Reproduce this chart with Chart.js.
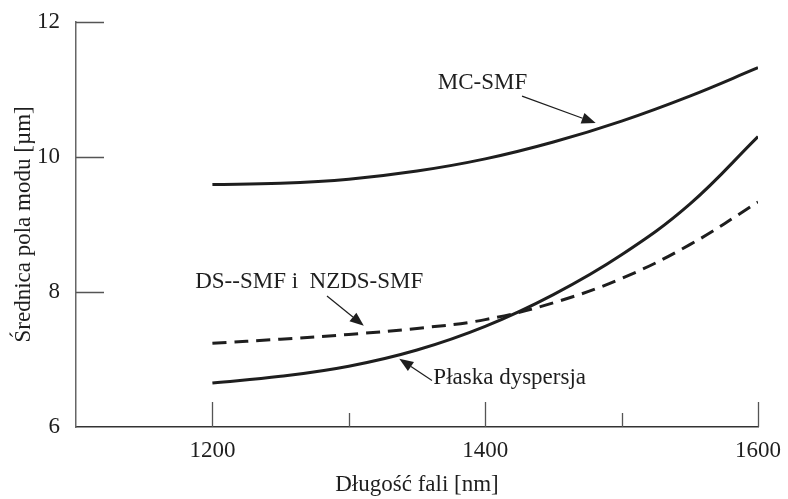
<!DOCTYPE html>
<html>
<head>
<meta charset="utf-8">
<script src="https://cdn.jsdelivr.net/npm/chart.js@4.4.1/dist/chart.umd.min.js"></script>
<style>
  html, body { margin: 0; padding: 0; background: #fff; }
</style>
</head>
<body>
<canvas id="plotCanvas" width="788" height="499"></canvas>
<script>
// Długość fali [nm]
let wavelengths = [1200, 1250, 1300, 1350, 1400, 1450, 1500, 1550, 1600];
// Średnica pola modu [µm]
let mcSmf = [9.59, 9.61, 9.67, 9.79, 9.97, 10.22, 10.53, 10.9, 11.32];
let dsSmf = [7.24, 7.3, 7.37, 7.46, 7.59, 7.84, 8.2, 8.7, 9.33];
let flatDisp = [6.65, 6.75, 6.9, 7.14, 7.49, 7.96, 8.55, 9.3, 10.3];

let xTickLabels = [1200, 1400, 1600];
let xMinorTicks = [1300, 1500];
let yTicks = [8, 10, 12];

// opisy krzywych: tekst + strzałka (w jednostkach osi)
let notes = [
  { text: "MC-SMF", at: [1398, 11.1], align: "center", from: [1427, 10.9], to: [1481, 10.5] },
  { text: "DS--SMF i  NZDS-SMF", at: [1271, 8.15], align: "center", from: [1284, 7.94], to: [1311, 7.5] },
  { text: "Płaska dyspersja", at: [1362, 6.72], align: "left", from: [1361, 6.69], to: [1337, 7.01] },
];

const serif = "'Liberation Serif', 'Times New Roman', serif";
const ink = "#1e1e1e";

function pts(ys) {
  return wavelengths.map((w, i) => ({ x: w, y: ys[i] }));
}

function line(data, dash) {
  return {
    data: pts(data),
    borderColor: ink,
    borderWidth: 3,
    borderDash: dash,
    pointRadius: 0,
    fill: false,
    tension: 0.4,
  };
}

const annotate = {
  id: "annotate",
  afterDatasetsDraw(c) {
    const xs = c.scales.x;
    const ys = c.scales.y;
    const ctx = c.ctx;
    const area = c.chartArea;
    ctx.save();

    // znaczniki osi do wewnątrz
    ctx.strokeStyle = "#555";
    ctx.lineWidth = 1.3;
    ctx.beginPath();
    xTickLabels.forEach((v) => {
      const px = Math.round(xs.getPixelForValue(v)) + 0.5;
      ctx.moveTo(px, area.bottom);
      ctx.lineTo(px, area.bottom - 25);
    });
    xMinorTicks.forEach((v) => {
      const px = Math.round(xs.getPixelForValue(v)) + 0.5;
      ctx.moveTo(px, area.bottom);
      ctx.lineTo(px, area.bottom - 14);
    });
    yTicks.forEach((v) => {
      const py = Math.round(ys.getPixelForValue(v)) + 0.5;
      ctx.moveTo(area.left, py);
      ctx.lineTo(area.left + 28, py);
    });
    ctx.stroke();

    // opisy i strzałki
    ctx.font = "23px " + serif;
    ctx.fillStyle = ink;
    ctx.textBaseline = "middle";
    notes.forEach((n) => {
      ctx.textAlign = n.align;
      ctx.fillText(n.text, xs.getPixelForValue(n.at[0]), ys.getPixelForValue(n.at[1]));

      const x1 = xs.getPixelForValue(n.from[0]);
      const y1 = ys.getPixelForValue(n.from[1]);
      const x2 = xs.getPixelForValue(n.to[0]);
      const y2 = ys.getPixelForValue(n.to[1]);
      const a = Math.atan2(y2 - y1, x2 - x1);
      const len = 14;
      const half = 5.5;
      const bx = x2 - len * Math.cos(a);
      const by = y2 - len * Math.sin(a);
      ctx.strokeStyle = ink;
      ctx.lineWidth = 1.2;
      ctx.beginPath();
      ctx.moveTo(x1, y1);
      ctx.lineTo(bx, by);
      ctx.stroke();
      ctx.beginPath();
      ctx.moveTo(x2, y2);
      ctx.lineTo(bx + half * Math.sin(a), by - half * Math.cos(a));
      ctx.lineTo(bx - half * Math.sin(a), by + half * Math.cos(a));
      ctx.closePath();
      ctx.fill();
    });
    ctx.restore();
  },
};

const ctx = document.getElementById("plotCanvas").getContext("2d");
const chart = new Chart(ctx, {
  type: "line",
  data: {
    datasets: [line(mcSmf, []), line(dsSmf, [14, 8]), line(flatDisp, [])],
  },
  plugins: [annotate],
  options: {
    responsive: false,
    animation: false,
    layout: { padding: { top: 19, right: 30, left: 0, bottom: 0 } },
    plugins: { legend: { display: false }, tooltip: { enabled: false } },
    scales: {
      x: {
        type: "linear",
        min: 1100,
        max: 1600,
        afterFit: (s) => { s.height = 72; },
        grid: { display: false },
        border: { display: true, color: "#333", width: 1.5 },
        ticks: {
          stepSize: 100,
          padding: 2,
          color: ink,
          font: { family: serif, size: 23 },
          maxRotation: 0,
          autoSkip: false,
          callback: (v) => (xTickLabels.includes(v) ? String(v) : ""),
        },
        title: {
          display: true,
          text: "Długość fali [nm]",
          color: ink,
          font: { family: serif, size: 23 },
          padding: { top: 0, bottom: 0 },
        },
      },
      y: {
        min: 6,
        max: 12,
        afterFit: (s) => { s.width = 76; },
        grid: { display: false },
        border: { display: true, color: "#666", width: 1.5 },
        ticks: {
          stepSize: 2,
          padding: 8,
          color: ink,
          font: { family: serif, size: 23 },
        },
        title: {
          display: true,
          text: "Średnica pola modu [µm]",
          color: ink,
          font: { family: serif, size: 23 },
          padding: { top: 10, bottom: 0 },
        },
      },
    },
  },
});
</script>
</body>
</html>
